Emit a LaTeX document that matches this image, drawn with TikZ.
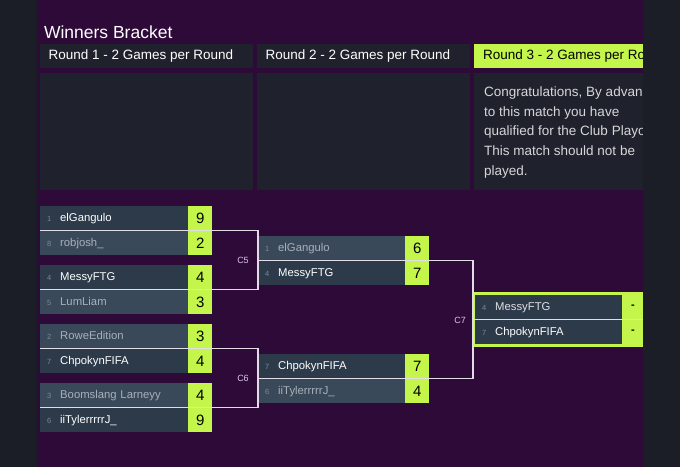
\documentclass[tikz,border=0pt]{standalone}
\usepackage{fontspec}
\setmainfont{Liberation Sans}
\usepackage{tikz}
\usetikzlibrary{positioning}

\definecolor{pagebg}{HTML}{2E0A39}
\definecolor{sidebg}{HTML}{1B1E27}
\definecolor{panelbg}{HTML}{1F222C}
\definecolor{rowwin}{HTML}{2C3A49}
\definecolor{rowlose}{HTML}{3A4959}
\definecolor{lime}{HTML}{C3F54A}
\definecolor{losetext}{HTML}{A7B0BA}
\definecolor{seedtext}{HTML}{7E8894}
\definecolor{linkc}{HTML}{E2DCE6}
\definecolor{labelc}{HTML}{D9C6E6}

\newcommand{\seed}[1]{\makebox[12pt][c]{\fontsize{7.5}{8}\selectfont\color{seedtext}#1}\hspace{5pt}}

\tikzset{
  rowbox/.style={anchor=north west, minimum width=148pt, minimum height=24.5pt,
    text width=142pt, inner xsep=3pt, inner ysep=0pt, align=left,
    text height=8.5pt, text depth=1.5pt,
    font=\fontsize{11.3}{13}\selectfont},
  winrow/.style={rowbox, fill=rowwin, text=white},
  loserow/.style={rowbox, fill=rowlose, text=losetext},
  scorebox/.style={anchor=north west, minimum width=24pt, minimum height=24.5pt,
    inner sep=0pt, fill=lime, text=black, font=\fontsize{15}{17}\selectfont},
  header/.style={anchor=north west, minimum width=213pt, minimum height=24pt, inner sep=0pt, fill=panelbg},
  headtext/.style={anchor=west, text=white, font=\fontsize{13.5}{16}\selectfont},
  link/.style={draw=linkc, line width=1.1pt},
  clabel/.style={text=labelc, font=\fontsize{9}{10}\selectfont}
}

\begin{document}
\begin{tikzpicture}[x=1pt, y=-1pt]
  \useasboundingbox (0,0) rectangle (680,467);
  \fill[sidebg] (0,0) rectangle (680,467);
  \fill[pagebg] (37,0) rectangle (643,467);

  % title and round headers
  \node[anchor=west, text=white, font=\fontsize{17.5}{20}\selectfont] (title) at (40.5,32) {Winners Bracket};
  \node[header] (h1) at (40,44) {};
  \node[header] (h2) at (257,44) {};
  \node[header, fill=lime] (h3) at (474,44) {};
  \node[headtext] (h1t) at (45,56) {Round 1 - 2 Games per Round};
  \node[headtext] (h2t) at (262,56) {Round 2 - 2 Games per Round};
  \node[header, minimum height=117pt] (p1) at (40,73) {};
  \node[header, minimum height=117pt] (p2) at (257,73) {};
  \begin{scope}
    \clip (474,44) rectangle (643,190);
    \node[headtext, text=black] (h3t) at (479.5,56) {Round 3 - 2 Games per Round};
    \node[header, minimum height=117pt] (p3) at (474,73) {};
    \node[anchor=north west, inner sep=0pt, align=left, text=white!82!panelbg,
      font=\fontsize{13.5}{19.7}\selectfont] (note) at (484,86.5)
      {Congratulations, By advancing\\to this match you have\\qualified for the Club Playoffs.\\This match should not be\\played.};
  \end{scope}

  % round 1
  \node[winrow] (m1a) at (40,206) {\seed{1}elGangulo};
  \node[loserow] (m1b) at (40,230.5) {\seed{8}robjosh\_};
  \node[scorebox] (s1a) at (188,206) {9};
  \node[scorebox] (s1b) at (188,230.5) {2};
  \node[winrow] (m2a) at (40,265) {\seed{4}MessyFTG};
  \node[loserow] (m2b) at (40,289.5) {\seed{5}LumLiam};
  \node[scorebox] (s2a) at (188,265) {4};
  \node[scorebox] (s2b) at (188,289.5) {3};
  \node[loserow] (m3a) at (40,324) {\seed{2}RoweEdition};
  \node[winrow] (m3b) at (40,348.5) {\seed{7}ChpokynFIFA};
  \node[scorebox] (s3a) at (188,324) {3};
  \node[scorebox] (s3b) at (188,348.5) {4};
  \node[loserow] (m4a) at (40,383) {\seed{3}Boomslang Larneyy};
  \node[winrow] (m4b) at (40,407.5) {\seed{6}iiTylerrrrrJ\_};
  \node[scorebox] (s4a) at (188,383) {4};
  \node[scorebox] (s4b) at (188,407.5) {9};

  % round 2
  \node[loserow, minimum width=147pt, text width=141pt] (n1a) at (258,236) {\seed{1}elGangulo};
  \node[winrow, minimum width=147pt, text width=141pt] (n1b) at (258,260.5) {\seed{4}MessyFTG};
  \node[scorebox] (t1a) at (405,236) {6};
  \node[scorebox] (t1b) at (405,260.5) {7};
  \node[winrow, minimum width=147pt, text width=141pt] (n2a) at (258,354) {\seed{7}ChpokynFIFA};
  \node[loserow, minimum width=147pt, text width=141pt] (n2b) at (258,378.5) {\seed{6}iiTylerrrrrJ\_};
  \node[scorebox] (t2a) at (405,354) {7};
  \node[scorebox] (t2b) at (405,378.5) {4};

  % round 3
  \fill[lime] (472,292) rectangle (643,347);
  \node[winrow, minimum width=147pt, text width=141pt, text=white!85!rowwin] (f1a) at (475,295) {\seed{4}MessyFTG};
  \node[winrow, minimum width=147pt, text width=141pt] (f1b) at (475,319.5) {\seed{7}ChpokynFIFA};
  \node[font=\bfseries\fontsize{11}{13}\selectfont] (u1a) at (633,307) {-};
  \node[font=\bfseries\fontsize{11}{13}\selectfont] (u1b) at (633,332) {-};

  % connectors
  \coordinate (j5) at (258,260.5);
  \coordinate (j6) at (258,378.5);
  \coordinate (j7) at (473,319.5);
  \draw[link] (m1a.south west) -| (j5) |- (m2a.south west);
  \draw[link] (m3a.south west) -| (j6) |- (m4a.south west);
  \draw[link] (n1a.south west) -| (j7) |- (n2a.south west);
  \draw[link] (j7) -- (643,319.5);
  \node[clabel] (c5) at (243,260.5) {C5};
  \node[clabel] (c6) at (243,378.5) {C6};
  \node[clabel] (c7) at (460,320) {C7};

  \fill[sidebg] (643,0) rectangle (680,467);
\end{tikzpicture}
\end{document}
